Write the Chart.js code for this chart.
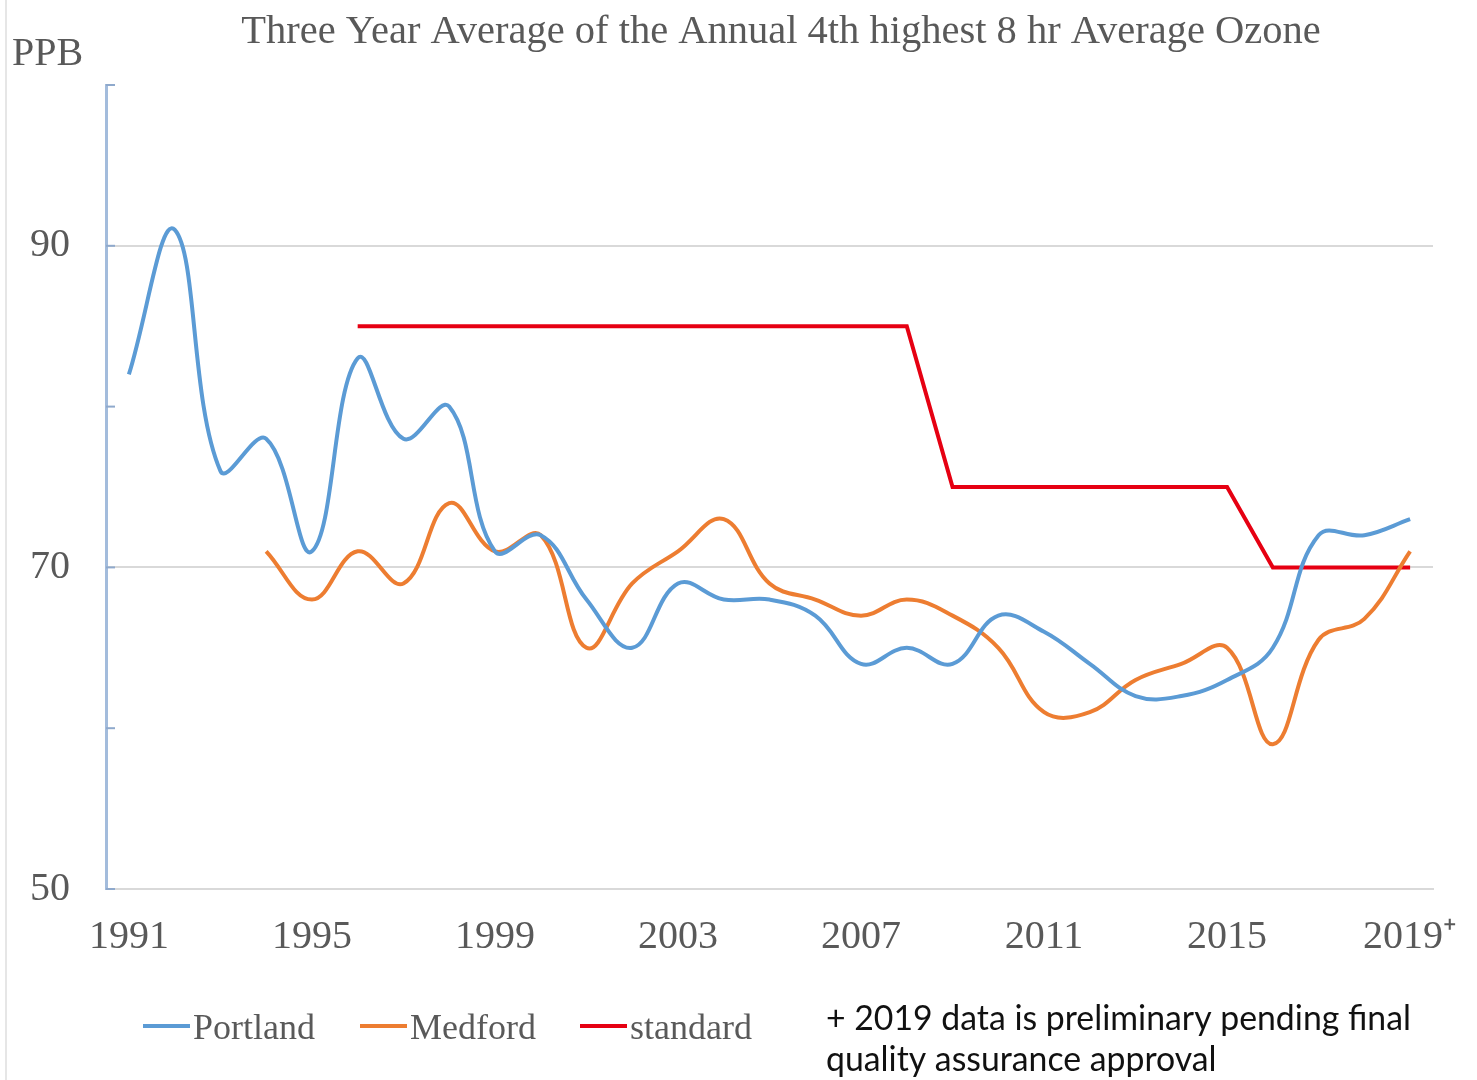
<!DOCTYPE html>
<html>
<head>
<meta charset="utf-8">
<title>Ozone</title>
<script src="https://cdn.jsdelivr.net/npm/chart.js@4.4.0/dist/chart.umd.min.js"></script>
<style>
  html, body { margin: 0; padding: 0; background: #fff; }
  #wrap { position: relative; width: 1477px; height: 1080px; }
  #edge { position: absolute; left: 5px; top: 0; width: 2px; height: 1080px; background: #e6e6e6; }
  canvas { position: absolute; left: 0; top: 0; }
</style>
</head>
<body>
<div id="wrap">
  <div id="edge"></div>
  <canvas id="ozone-chart" width="1477" height="1080"></canvas>
</div>
<script>
// data (ppb)
const years = ['1991','1992','1993','1994','1995','1996','1997','1998','1999','2000',
  '2001','2002','2003','2004','2005','2006','2007','2008','2009','2010',
  '2011','2012','2013','2014','2015','2016','2017','2018','2019\u207A']
const portland = [82, 91, 76, 78, 71, 83, 78, 80, 71, 72, 68, 65, 69, 68, 68, 67, 64, 65, 64, 67,
  66, 64, 62, 62, 63, 65, 72, 72, 73]
const medford = [null, null, null, 71, 68, 71, 69, 74, 71, 72, 65, 69, 71, 73, 69, 68, 67, 68, 67, 65,
  61, 61, 63, 64, 65, 59, 65.5, 66.8, 71]
const standard = [null, null, null, null, null, 85, 85, 85, 85, 85, 85, 85, 85, 85, 85, 85, 85, 85, 75, 75,
  75, 75, 75, 75, 75, 70, 70, 70, 70]
const yLabels = [50, 70, 90]

const titleText = 'Three Year Average of the Annual 4th highest 8 hr Average Ozone'
const unitText = 'PPB'
const noteLines = ['+ 2019 data is preliminary pending final', 'quality assurance approval']

const serif = '"Liberation Serif", "Times New Roman", serif'
const grey = '#595959'

// title, unit, legend, footnote and the small inside tick marks
const decor = {
  id: 'decor',
  afterDraw(chart) {
    const c = chart.ctx
    const y = chart.scales.y
    c.save()
    c.strokeStyle = '#8fa9cc'
    c.lineWidth = 2
    y.ticks.forEach(t => {
      const py = y.getPixelForValue(t.value)
      c.beginPath()
      c.moveTo(y.right, py)
      c.lineTo(y.right + 9, py)
      c.stroke()
    })

    c.fillStyle = grey
    c.font = '40.5px ' + serif
    c.textBaseline = 'alphabetic'
    c.textAlign = 'center'
    c.fillText(titleText, 781, 43)
    c.textAlign = 'left'
    c.font = '40px ' + serif
    c.fillText(unitText, 12, 65)

    // legend
    const legendX = [143, 360, 580]
    c.font = '36px ' + serif
    chart.data.datasets.forEach((ds, i) => {
      const x = legendX[i]
      c.strokeStyle = ds.borderColor
      c.lineWidth = 4
      c.beginPath()
      c.moveTo(x, 1026)
      c.lineTo(x + 47, 1026)
      c.stroke()
      c.fillStyle = grey
      c.fillText(ds.label, x + 50, 1039)
    })

    c.fillStyle = '#111'
    c.font = '33.8px Lato, "Liberation Sans", sans-serif'
    c.fillText(noteLines[0], 826, 1030)
    c.fillText(noteLines[1], 826, 1071)
    c.restore()
  }
}

new Chart(document.querySelector('#ozone-chart'), {
  type: 'line',
  data: {
    labels: years,
    datasets: [
      { label: 'Portland', data: portland, borderColor: '#5b9bd5', borderWidth: 4, tension: 0.4 },
      { label: 'Medford', data: medford, borderColor: '#ed7d31', borderWidth: 4, tension: 0.4 },
      { label: 'standard', data: standard, borderColor: '#e60012', borderWidth: 4, tension: 0 }
    ]
  },
  options: {
    responsive: false,
    animation: false,
    layout: { padding: { left: 0, top: 85, right: 44, bottom: 111 } },
    elements: { point: { radius: 0, hoverRadius: 0 } },
    plugins: { legend: { display: false }, title: { display: false }, tooltip: { enabled: false } },
    scales: {
      x: {
        offset: true,
        grid: { display: false, drawTicks: false },
        border: { color: '#d9d9d9', width: 2 },
        ticks: {
          autoSkip: false,
          maxRotation: 0,
          padding: 24,
          color: grey,
          font: { family: serif, size: 40 },
          callback: (v, i) => i % 4 === 0 ? years[i] : ''
        },
        afterFit: s => { s.height = 80; s.paddingLeft = 0; s.paddingRight = 0 }
      },
      y: {
        min: 50,
        max: 100,
        grid: {
          drawTicks: false,
          lineWidth: 2,
          color: ctx => (ctx.tick && (ctx.tick.value === 70 || ctx.tick.value === 90)) ? '#d9d9d9' : 'rgba(0,0,0,0)'
        },
        border: { color: '#a3bcdc', width: 3 },
        ticks: {
          stepSize: 10,
          padding: 36,
          color: grey,
          font: { family: serif, size: 40 },
          callback: v => yLabels.includes(v) ? String(v) : ''
        },
        afterFit: s => { s.width = 106; s.paddingTop = 0; s.paddingBottom = 0 }
      }
    }
  },
  plugins: [decor]
})
</script>
</body>
</html>
